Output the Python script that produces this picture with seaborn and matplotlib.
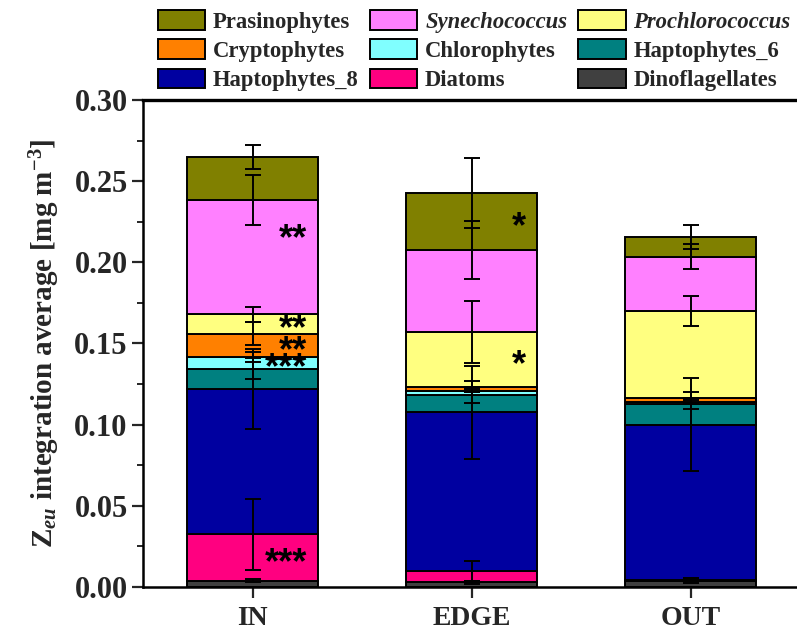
import matplotlib
matplotlib.use("Agg")
import matplotlib.pyplot as plt
from matplotlib.patches import Patch
from matplotlib.ticker import MultipleLocator, FormatStrFormatter
import matplotlib.transforms as mtransforms
import numpy as np
import pandas as pd
import seaborn as sns

# ---- data: Zeu-integrated average pigment-derived biomass (mg m^-3) ----
sites = ["IN", "EDGE", "OUT"]
groups = ["Dinoflagellates", "Diatoms", "Haptophytes_8", "Haptophytes_6",
          "Chlorophytes", "Cryptophytes", "Prochlorococcus",
          "Synechococcus", "Prasinophytes"]

dinoflagellates = [0.004, 0.003, 0.004]
diatoms = [0.0285, 0.007, 0.0005]
haptophytes_8 = [0.0895, 0.0975, 0.0955]
haptophytes_6 = [0.0125, 0.011, 0.013]
chlorophytes = [0.007, 0.0025, 0.0012]
cryptophytes = [0.0145, 0.0025, 0.0025]
prochlorococcus = [0.012, 0.0335, 0.0533]
synechococcus = [0.0705, 0.0505, 0.0335]
prasinophytes = [0.0265, 0.035, 0.0123]

# standard deviations
dinoflagellates_sd = [0.001, 0.001, 0.0015]
diatoms_sd = [0.022, 0.006, 0.001]
haptophytes_8_sd = [0.0245, 0.0285, 0.0285]
haptophytes_6_sd = [0.0065, 0.005, 0.0035]
chlorophytes_sd = [0.003, 0.001, 0.001]
cryptophytes_sd = [0.007, 0.0035, 0.0033]
prochlorococcus_sd = [0.0045, 0.019, 0.009]
synechococcus_sd = [0.0155, 0.018, 0.0075]
prasinophytes_sd = [0.0073, 0.0215, 0.0075]

# significance marks
sig_site = ["IN", "IN", "IN", "IN", "IN", "EDGE", "EDGE"]
sig_group = ["Synechococcus", "Prochlorococcus", "Cryptophytes",
             "Chlorophytes", "Diatoms", "Prasinophytes", "Prochlorococcus"]
sig_text = ["**", "**", "**", "***", "***", "*", "*"]

colors = {
    "Prasinophytes": "#808000",
    "Synechococcus": "#FF80FF",
    "Prochlorococcus": "#FFFF80",
    "Cryptophytes": "#FF8000",
    "Chlorophytes": "#80FFFF",
    "Haptophytes_6": "#008080",
    "Haptophytes_8": "#0000A0",
    "Diatoms": "#FF0080",
    "Dinoflagellates": "#404040",
}

values = {
    "Dinoflagellates": dinoflagellates, "Diatoms": diatoms,
    "Haptophytes_8": haptophytes_8, "Haptophytes_6": haptophytes_6,
    "Chlorophytes": chlorophytes, "Cryptophytes": cryptophytes,
    "Prochlorococcus": prochlorococcus, "Synechococcus": synechococcus,
    "Prasinophytes": prasinophytes,
}
errors = {
    "Dinoflagellates": dinoflagellates_sd, "Diatoms": diatoms_sd,
    "Haptophytes_8": haptophytes_8_sd, "Haptophytes_6": haptophytes_6_sd,
    "Chlorophytes": chlorophytes_sd, "Cryptophytes": cryptophytes_sd,
    "Prochlorococcus": prochlorococcus_sd, "Synechococcus": synechococcus_sd,
    "Prasinophytes": prasinophytes_sd,
}

# ---- style ----
sns.set_theme(style="white")
plt.rcParams["font.family"] = ["Liberation Serif", "DejaVu Serif"]
plt.rcParams["font.weight"] = "bold"
plt.rcParams["mathtext.fontset"] = "custom"
plt.rcParams["mathtext.rm"] = "Liberation Serif:bold"
plt.rcParams["mathtext.bf"] = "Liberation Serif:bold"
plt.rcParams["mathtext.it"] = "Liberation Serif:italic:bold"

fig = plt.figure(figsize=(7.97, 6.32), dpi=100)
ax = fig.add_axes([143 / 797, 45 / 632, 657 / 797, 487 / 632])

# ---- stacked bars ----
bottom = np.zeros(len(sites))
tops = {}
for g in groups:
    df = pd.DataFrame({"site": sites, "value": values[g]})
    sns.barplot(data=df, x="site", y="value", order=sites, color=colors[g],
                bottom=bottom.copy(), width=0.6, edgecolor="black",
                linewidth=1.4, saturation=1, errorbar=None, ax=ax, zorder=2)
    bottom = bottom + np.array(values[g])
    tops[g] = bottom.copy()

# error bars at the top of each segment
xpos = np.arange(len(sites))
for g in groups:
    ax.errorbar(xpos, tops[g], yerr=errors[g], fmt="none", ecolor="black",
                elinewidth=1.4, capsize=5.5, capthick=1.4, zorder=4)

# significance asterisks, right-aligned inside each segment
star_shift = mtransforms.offset_copy(ax.transData, fig=fig, x=0, y=-6,
                                     units="dots")
for s, g, t in zip(sig_site, sig_group, sig_text):
    i = sites.index(s)
    k = groups.index(g)
    lo = tops[groups[k - 1]][i] if k > 0 else 0.0
    hi = tops[g][i]
    frac = 0.7 if g == "Synechococcus" else 0.5
    y = lo + frac * (hi - lo)
    ax.text(i + 0.25, y, t, ha="right", va="center", fontsize=26,
            fontweight="bold", family="Liberation Sans", color="black",
            transform=star_shift, zorder=5)

# ---- axes ----
ax.set_xlim(-0.5, 2.5)
ax.set_ylim(0, 0.30)
ax.yaxis.set_major_locator(MultipleLocator(0.05))
ax.yaxis.set_minor_locator(MultipleLocator(0.025))
ax.yaxis.set_major_formatter(FormatStrFormatter("%.2f"))
ax.tick_params(axis="y", which="major", direction="out", length=8, width=1.6,
               labelsize=22, pad=3, left=True)
ax.tick_params(axis="y", which="minor", direction="out", length=4, width=1.4,
               left=True)
ax.tick_params(axis="x", which="major", direction="out", length=8, width=1.6,
               labelsize=20, pad=6, bottom=True)
for lab in ax.get_xticklabels() + ax.get_yticklabels():
    lab.set_fontweight("bold")
for side in ["left", "bottom", "top", "right"]:
    ax.spines[side].set_visible(True)
    ax.spines[side].set_color("black")
    ax.spines[side].set_linewidth(1.8)
ax.spines["top"].set_linewidth(2.4)

ax.set_xlabel("")
ax.set_ylabel(r"Z$_{\mathit{eu}}$ integration average [mg m$^{\mathbf{-3}}$]",
              fontsize=21, fontweight="bold", labelpad=9)

# ---- legend (row-wise layout across three columns) ----
legend_rows = [["Prasinophytes", "Synechococcus", "Prochlorococcus"],
               ["Cryptophytes", "Chlorophytes", "Haptophytes_6"],
               ["Haptophytes_8", "Diatoms", "Dinoflagellates"]]
handles, labels = [], []
for col in range(3):
    for row in range(3):
        g = legend_rows[row][col]
        handles.append(Patch(facecolor=colors[g], edgecolor="black",
                             linewidth=1.4))
        labels.append(g)
leg = fig.legend(handles, labels, ncol=3, loc="upper left",
                 bbox_to_anchor=(158 / 797, 1 - 10 / 632), frameon=False,
                 prop={"family": "Liberation Serif", "weight": "bold",
                       "size": 16.3},
                 handlelength=2.08, handleheight=0.95, handletextpad=0.35,
                 columnspacing=0.5, labelspacing=0.3, borderpad=0,
                 borderaxespad=0)
for txt in leg.get_texts():
    if txt.get_text() in ("Synechococcus", "Prochlorococcus"):
        txt.set_fontstyle("italic")

fig.savefig("out.png", dpi=100)
